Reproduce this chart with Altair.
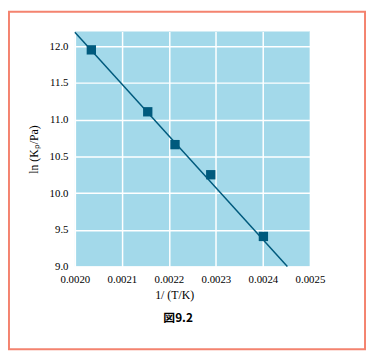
import altair as alt
import pandas as pd

inv_t = [0.002035, 0.002155, 0.002213, 0.002289, 0.002401]
ln_kp = [11.95, 11.107, 10.66, 10.25, 9.41]
fit_x = [0.0020, 0.002452]
fit_y = [12.19, 9.0]
x_ticks = [0.0020, 0.0021, 0.0022, 0.0023, 0.0024, 0.0025]
y_ticks = [9.0, 9.5, 10.0, 10.5, 11.0, 11.5, 12.0]
caption = ["図9.2"]

pts = pd.DataFrame({"x": inv_t, "y": ln_kp})
fit = pd.DataFrame({"x": fit_x, "y": fit_y})
frame = pd.DataFrame({"k": [0]})
cap = pd.DataFrame({"t": caption})

dark = "#005a7d"
serif = "Liberation Serif"

xs = alt.Scale(domain=[0.0020, 0.0025], nice=False, zero=False)
ys = alt.Scale(domain=[9.0, 12.2], nice=False, zero=False)

xax = alt.Axis(values=x_ticks, format=".4f", title="1/ (T/K)", grid=True,
               gridColor="white", gridWidth=1.5, domain=False, ticks=False,
               labelFont=serif, labelFontSize=11, labelColor="black", labelPadding=7,
               labelFlush=False, labelOverlap=False,
               titleFont=serif, titleFontSize=12, titleFontWeight="normal",
               titleColor="black", titleX=101, titlePadding=5)
yax = alt.Axis(values=y_ticks, format=".1f", title="ln (Kₚ/Pa)", grid=True,
               gridColor="white", gridWidth=1.5, domain=False, ticks=False,
               tickCount=7, labelFont=serif, labelFontSize=11, labelColor="black",
               labelPadding=7, labelFlush=False, labelOverlap=False,
               titleFont=serif, titleFontSize=12, titleFontWeight="normal",
               titleColor="black", titlePadding=9)

line = alt.Chart(fit).mark_line(color=dark, strokeWidth=1.5).encode(
    x=alt.X("x:Q", scale=xs, axis=xax),
    y=alt.Y("y:Q", scale=ys, axis=yax),
)
points = alt.Chart(pts).mark_point(shape="square", filled=True, size=90,
                                   color=dark, opacity=1).encode(
    x=alt.X("x:Q", scale=xs, axis=xax),
    y=alt.Y("y:Q", scale=ys, axis=yax),
)
border = alt.Chart(frame).mark_rect(fill=None, stroke="#f4836f", strokeWidth=2).encode(
    x=alt.value(-67), x2=alt.value(295), y=alt.value(-20), y2=alt.value(323)
)
caption_text = alt.Chart(cap).mark_text(font="Noto Sans CJK JP", fontSize=12,
                                        fontWeight="bold", color="black",
                                        baseline="middle", align="center").encode(
    text="t:N", x=alt.value(105), y=alt.value(291)
)

chart = alt.layer(border, line, points, caption_text).properties(
    width=239, height=239,
    background="white",
    autosize=alt.AutoSizeParams(type="none"),
    padding={"left": 68, "top": 21, "right": 57, "bottom": 85},
).configure_view(fill="#a3d9ea", stroke=None)

chart.save("out.html", embed_options={"renderer": "svg", "actions": False})
